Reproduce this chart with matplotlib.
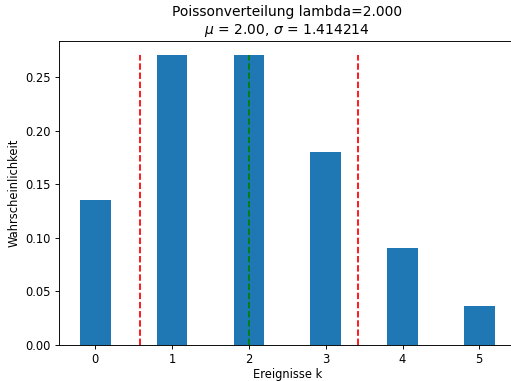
import matplotlib
matplotlib.use("Agg")
import matplotlib.pyplot as plt

# Poisson probabilities for lambda = 2
k = [0, 1, 2, 3, 4, 5]
p = [0.1353, 0.2707, 0.2707, 0.1804, 0.0902, 0.0361]
mu = 2.0
sigma = 1.414214

DPI = 83.1
fig = plt.figure(figsize=(511 / DPI, 381 / DPI), dpi=DPI)
# axes runs past the right edge like the cropped original
ax = fig.add_axes([59.2 / 511, 36 / 381, 456.2 / 511, 304.3 / 381])

ax.bar(k, p, width=0.4)
ax.vlines([mu - sigma, mu + sigma], 0, max(p), colors='r', linestyles='--')
ax.vlines([mu], 0, max(p), colors='g', linestyles='--')

ax.set_title(f"Poissonverteilung lambda={mu:.3f}\n$\\mu$ = {mu:.2f}, $\\sigma$ = {sigma:.6f}")
ax.set_xlabel("Ereignisse k", labelpad=1.5)
ax.set_ylabel("Wahrscheinlichkeit")

fig.savefig("out.png", dpi=DPI)
